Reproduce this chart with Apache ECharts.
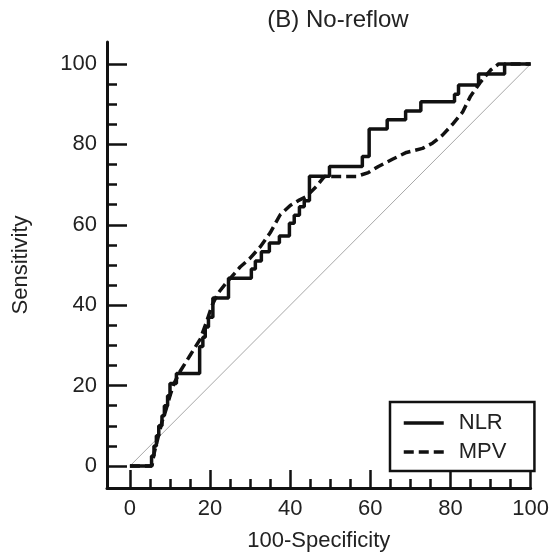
<!DOCTYPE html>
<html>
<head>
<meta charset="utf-8">
<script src="https://cdn.jsdelivr.net/npm/echarts@6/dist/echarts.min.js"></script>
<style>
  html, body { margin: 0; padding: 0; background: #fff; }
  #chart { width: 552px; height: 558px; }
</style>
</head>
<body>
<div id="chart"></div>
<script>
  // ROC points: [100-Specificity, Sensitivity]
  var nlrPoints = [
    [0, 0], [5.4, 2.5], [6, 5], [6.6, 7.5], [7.2, 10], [8, 12.5], [8.6, 15],
    [9.4, 17.5], [10, 20.5], [11.6, 23], [17.4, 29.7], [18.2, 32], [18.8, 34.6],
    [19.6, 37], [20.7, 41.8], [24.6, 46.7], [30.3, 49], [31.3, 51], [32.8, 53.3],
    [34.8, 55.5], [37.3, 57.2], [39.8, 60.4], [41, 62.4], [42.3, 64.5], [43.5, 66],
    [44.8, 72.1], [49.8, 74.5], [58, 77], [59.7, 83.8], [64.2, 86.1], [68.8, 88.3],
    [72.6, 90.6], [81, 92.5], [82, 94.8], [87, 97.5], [93.5, 100], [100, 100]
  ]
  var mpvPoints = [
    [0, 0], [5.5, 0], [6, 3], [7, 7], [8, 11], [9, 14], [10, 17.5], [11, 20.5],
    [12.5, 23.5], [15, 27.5], [17.5, 31.5], [19, 35.5], [20.5, 40], [22, 43],
    [24, 45.5], [27.5, 49.5], [30, 51.7], [32.5, 54.5], [35, 58], [37.5, 62.5],
    [40, 64.8], [42, 66], [44, 67], [46.5, 69.5], [48.5, 72], [56.5, 72],
    [59.5, 73], [62, 74.5], [65.5, 76.3], [69, 78], [73, 79], [75.5, 80.3],
    [78, 82.3], [80.5, 85], [83, 88], [85, 92], [87.5, 95.5], [90, 98.5],
    [92, 100], [100, 100]
  ]
  var chancePoints = [[0, 0], [100, 100]]
  var majorTicks = [0, 20, 40, 60, 80, 100]
  var minorTicks = [5, 10, 15, 25, 30, 35, 45, 50, 55, 65, 70, 75, 85, 90, 95]
  var seriesNames = ['NLR', 'MPV']

  var font = 'Liberation Sans, Arial, sans-serif'
  var ink = '#111'

  var myChart = echarts.init(document.getElementById('chart'))

  var axisBase = function (dim, min, max, major) {
    return {
      type: 'value',
      min: min,
      max: max,
      position: dim === 'x' ? 'bottom' : 'left',
      axisLine: { show: major, onZero: false, lineStyle: { color: ink, width: 3 } },
      axisTick: {
        show: true,
        inside: true,
        length: major ? (dim === 'x' ? 18 : 20) : (dim === 'x' ? 9 : 10),
        lineStyle: { color: ink, width: 2.5 },
        customValues: major ? majorTicks : minorTicks
      },
      axisLabel: {
        show: major,
        customValues: majorTicks,
        fontFamily: font,
        fontSize: 22,
        color: '#222',
        margin: 10
      },
      splitLine: { show: false }
    }
  }

  var xMajor = axisBase('x', -5.72, 100, true)
  xMajor.name = '100-Specificity'
  xMajor.nameLocation = 'middle'
  xMajor.nameGap = 42
  xMajor.nameTextStyle = { fontFamily: font, fontSize: 22, color: '#222' }

  var yMajor = axisBase('y', -5.47, 105.47, true)
  yMajor.name = 'Sensitivity'
  yMajor.nameLocation = 'middle'
  yMajor.nameGap = 75
  yMajor.nameTextStyle = { fontFamily: font, fontSize: 22, color: '#222' }

  var option = {
    animation: false,
    backgroundColor: '#fff',
    title: {
      text: '(B) No-reflow',
      left: 333,
      textAlign: 'center',
      top: 3,
      textStyle: { fontFamily: font, fontSize: 24, fontWeight: 'normal', color: '#222' }
    },
    grid: { left: 107, right: 20, top: 42, bottom: 70, containLabel: false },
    legend: {
      data: seriesNames,
      orient: 'vertical',
      left: 390,
      top: 402,
      itemWidth: 40,
      itemHeight: 16,
      itemGap: 7,
      padding: [10, 28, 8, 12],
      borderColor: ink,
      borderWidth: 2.5,
      backgroundColor: '#fff',
      itemStyle: { color: 'transparent', borderWidth: 0, opacity: 0 },
      lineStyle: { width: 3.5, color: ink },
      textStyle: { fontFamily: font, fontSize: 22, color: '#222', lineHeight: 22, padding: [0, 0, 0, 10] }
    },
    xAxis: [xMajor, axisBase('x', -5.72, 100, false)],
    yAxis: [yMajor, axisBase('y', -5.47, 105.47, false)],
    series: [
      {
        name: 'chance',
        type: 'line',
        silent: true,
        symbol: 'none',
        lineStyle: { color: '#a8a8a8', width: 1 },
        data: chancePoints
      },
      {
        name: 'NLR',
        type: 'line',
        step: 'end',
        symbol: 'none',
        color: ink,
        lineStyle: { color: ink, width: 3.5 },
        data: nlrPoints
      },
      {
        name: 'MPV',
        type: 'line',
        symbol: 'none',
        color: ink,
        lineStyle: { color: ink, width: 3.5, type: [10, 5] },
        data: mpvPoints
      }
    ]
  }
  myChart.setOption(option)
</script>
</body>
</html>
